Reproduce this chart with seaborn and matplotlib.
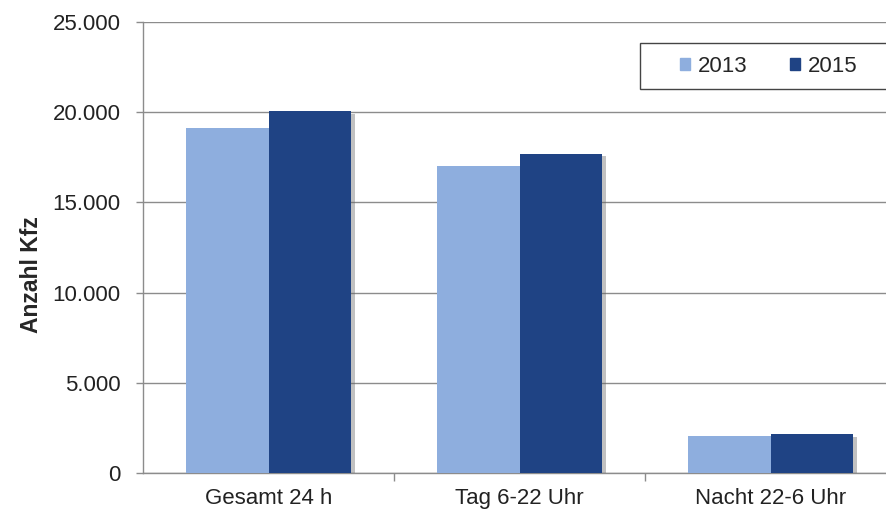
import matplotlib
matplotlib.use("Agg")
import matplotlib.pyplot as plt
import matplotlib.patheffects as pe
from matplotlib.patches import Rectangle
from matplotlib.ticker import FuncFormatter, FixedLocator
import seaborn as sns
import pandas as pd

# data
kategorien = ["Gesamt 24 h", "Tag 6-22 Uhr", "Nacht 22-6 Uhr"]
jahre = ["2013", "2015"]
werte_2013 = [19100, 17000, 2050]
werte_2015 = [20050, 17700, 2150]

farben = {"2013": "#8eaede", "2015": "#1f4384"}

df = pd.DataFrame({
    "Kategorie": kategorien * 2,
    "Jahr": [jahre[0]] * 3 + [jahre[1]] * 3,
    "Anzahl": werte_2013 + werte_2015,
})

sns.set_style("white")
plt.rcParams["font.family"] = ["Liberation Sans", "DejaVu Sans"]

fig = plt.figure(figsize=(8.86, 5.14), dpi=100)
ax = fig.add_axes([143 / 886, 1 - 473 / 514, 1 - 143 / 886, (473 - 22) / 514])

sns.barplot(data=df, x="Kategorie", y="Anzahl", hue="Jahr", palette=farben,
            width=0.655, saturation=1, ax=ax, legend=False, zorder=3,
            linewidth=0, edgecolor="none")

# leichter Schatten wie im Original
for p in ax.patches:
    p.set_path_effects([pe.SimplePatchShadow(offset=(3, -2), shadow_rgbFace="#666666", alpha=0.4),
                        pe.Normal()])

ax.set_xlim(-0.5, 2.46)
ax.set_ylim(0, 25000)
ax.set_yticks(range(0, 25001, 5000))
ax.yaxis.set_major_formatter(FuncFormatter(lambda v, _: f"{int(v):,}".replace(",", ".")))
ax.grid(axis="y", color="#8c8c8c", linewidth=1, zorder=0)
ax.set_axisbelow(True)

for s in ["top", "right"]:
    ax.spines[s].set_visible(False)
for s in ["left", "bottom"]:
    ax.spines[s].set_color("#8c8c8c")
    ax.spines[s].set_linewidth(1)

ax.tick_params(axis="y", which="major", length=5, width=1, color="#8c8c8c",
               labelsize=16, labelcolor="#222222", pad=11, left=True)
ax.tick_params(axis="x", which="major", length=0, labelsize=16,
               labelcolor="#222222", pad=11)
ax.xaxis.set_minor_locator(FixedLocator([0.5, 1.5]))
ax.tick_params(axis="x", which="minor", length=6, width=1, color="#8c8c8c", bottom=True)

ax.set_xlabel("")
ax.set_ylabel("Anzahl Kfz", fontsize=16.5, fontweight="bold")
ax.yaxis.set_label_coords(-0.134, 0.44)

# Legende mit Rahmen, der rechts über den Bildrand läuft
fig.patches.append(Rectangle((640 / 886, 1 - 89 / 514), 0.4, 46 / 514,
                             transform=fig.transFigure, fill=True, facecolor="white",
                             edgecolor="#444444", linewidth=1, zorder=5))
handles = [Rectangle((0, 0), 1, 1, color=farben[j]) for j in jahre]
leg = fig.legend(handles, jahre, ncol=2, frameon=False, fontsize=16,
                 handlelength=0.45, handleheight=0.45, handletextpad=0.35,
                 columnspacing=1.9, loc="center left",
                 bbox_to_anchor=(660 / 886, 1 - 66 / 514))
leg.set_zorder(6)

fig.savefig("out.png", dpi=100)
